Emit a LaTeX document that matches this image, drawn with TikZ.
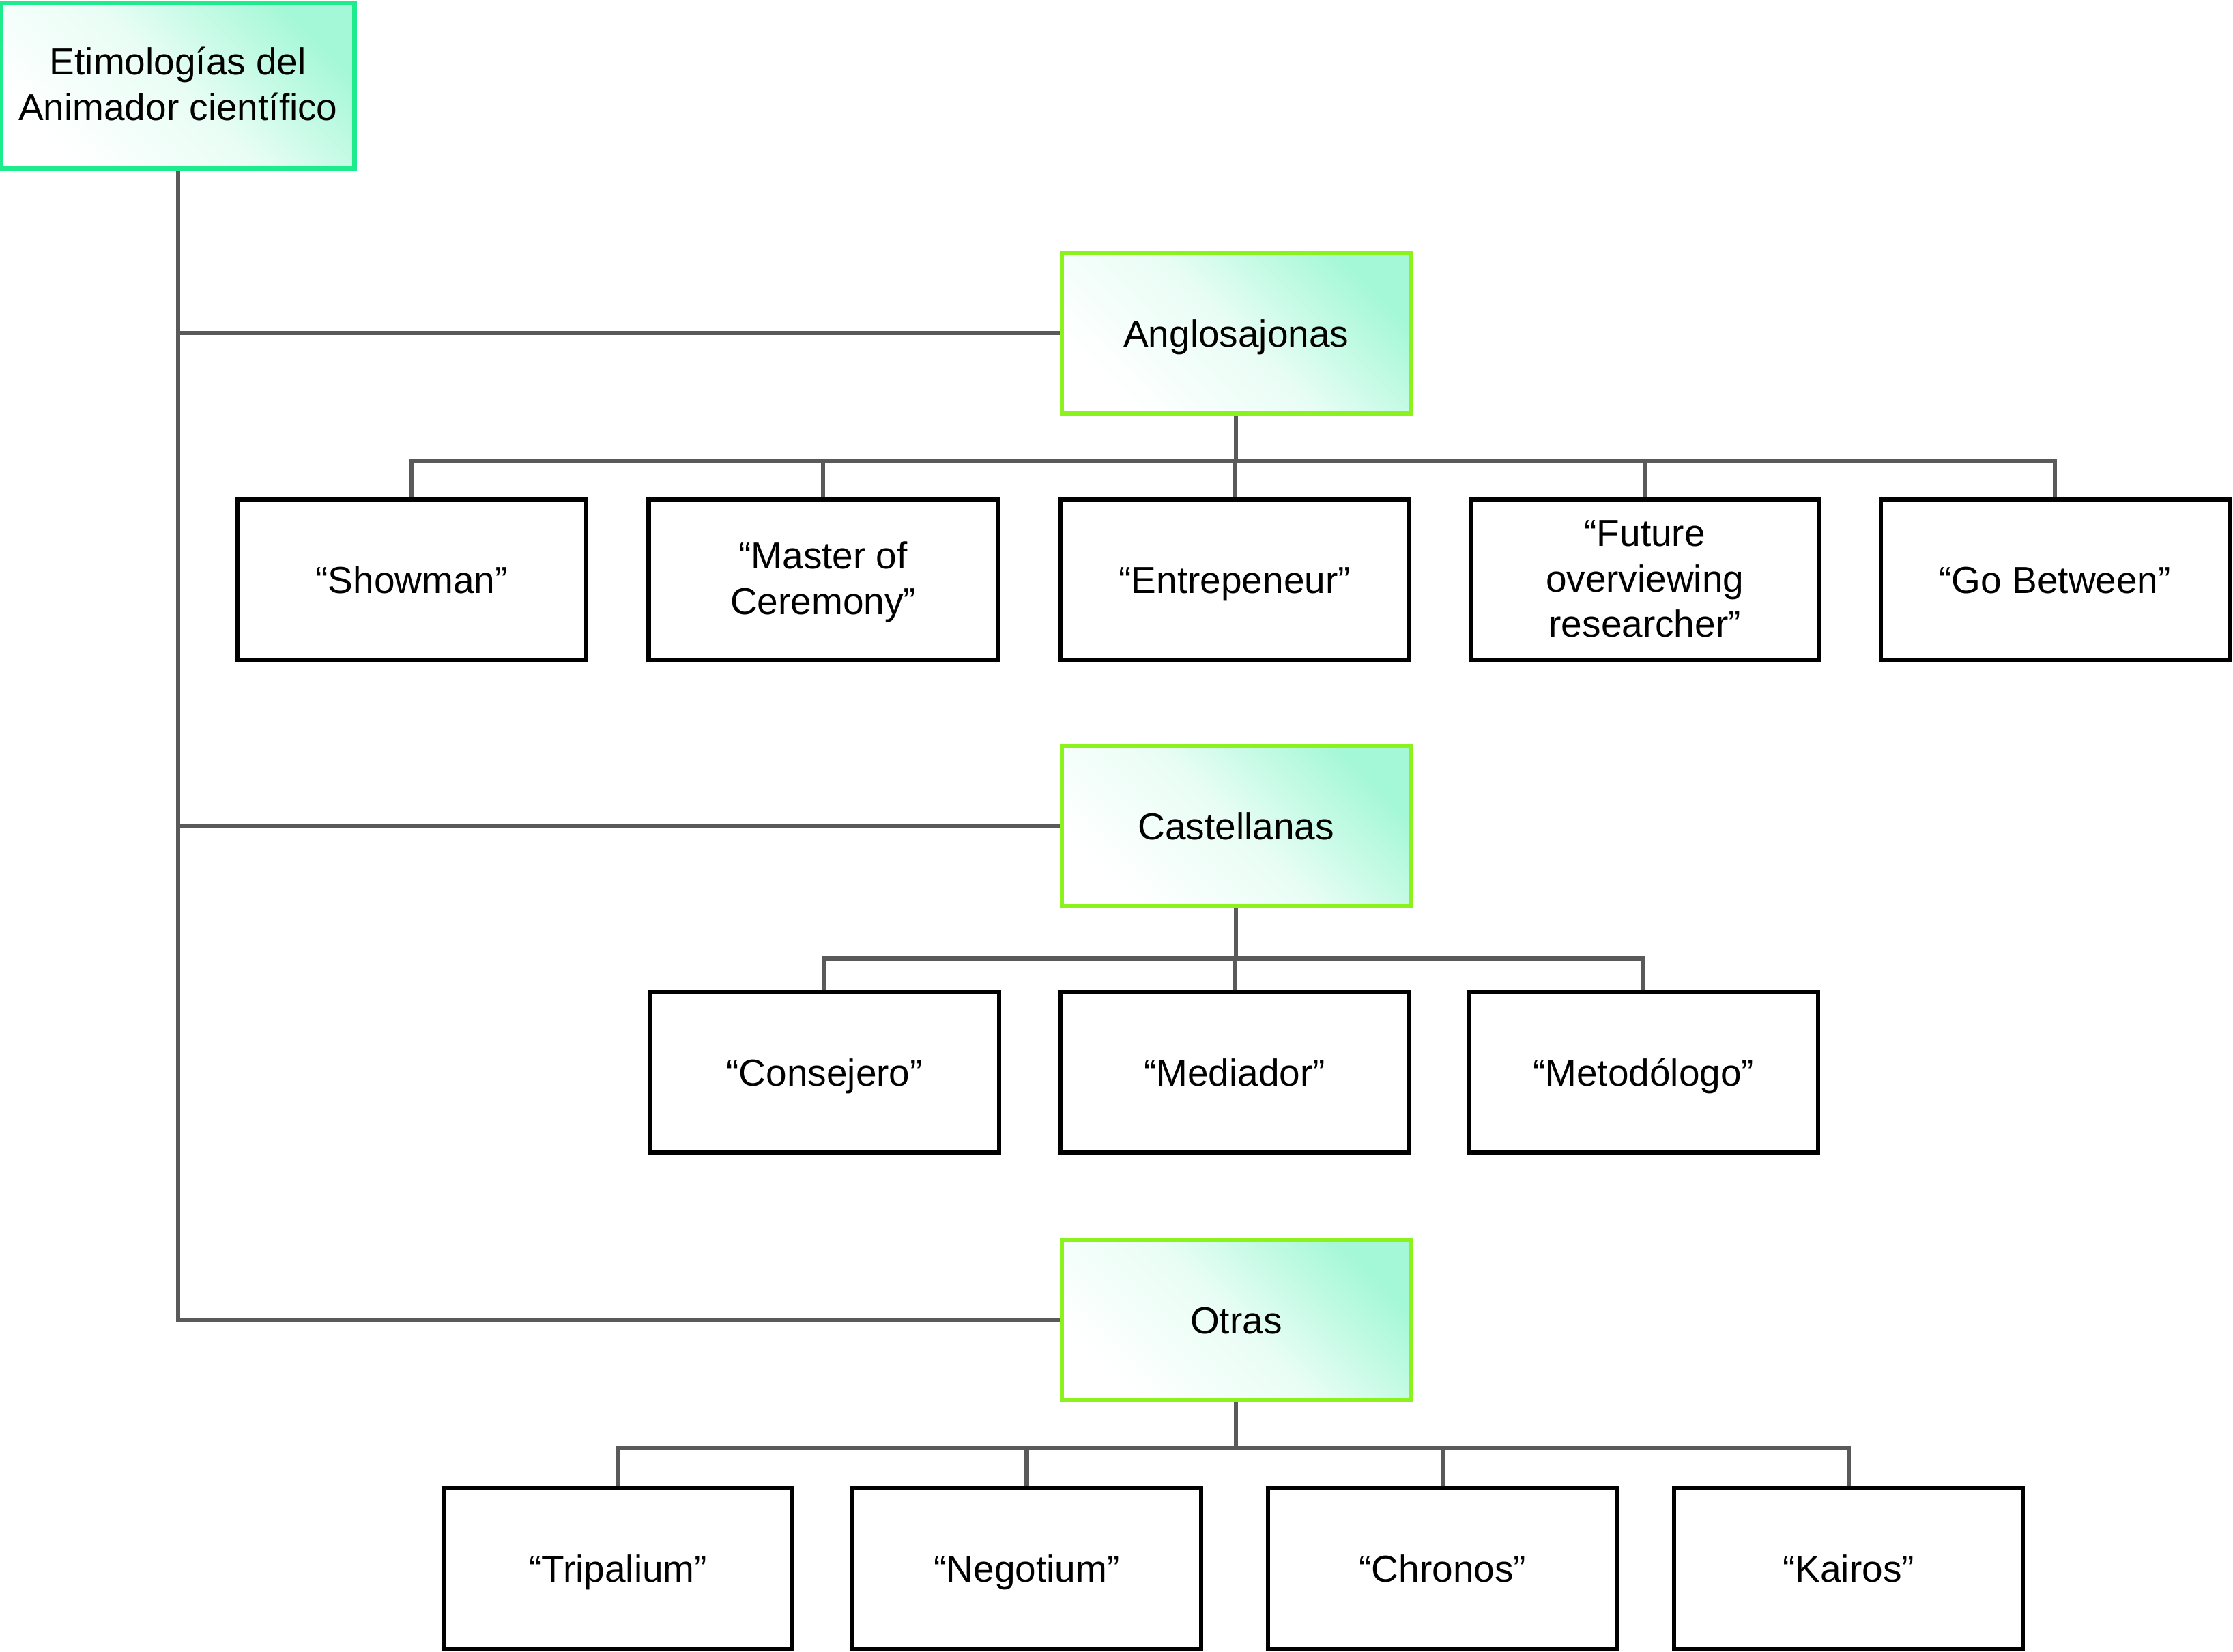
\documentclass[tikz,border=0pt]{standalone}
\usepackage{fontspec}
\setmainfont{Liberation Sans}
\usetikzlibrary{backgrounds}

\definecolor{bordeRaiz}{RGB}{30,235,140}
\definecolor{bordeCat}{RGB}{140,242,30}
\definecolor{menta}{RGB}{165,248,215}
\definecolor{gris}{RGB}{90,90,90}

% altura extra de la primera linea en cajas de varias lineas
\newcommand{\arriba}{\rule{0pt}{15.2pt}}

\tikzset{
	caja/.style={draw, line width=1.7pt, minimum width=4.9cm, minimum height=2.25cm,
		align=center, inner sep=2pt, font=\fontsize{15}{18.2}\selectfont,
		execute at begin node=\rule{0pt}{16.3pt}, execute at end node=\strut},
	hoja/.style={caja, draw=black},
	categoria/.style={caja, draw=bordeCat, top color=menta, bottom color=white,
		middle color=menta!25, shading angle=-45},
	raiz/.style={categoria, draw=bordeRaiz, minimum width=4.96cm, minimum height=2.33cm},
	linea/.style={draw=gris, line width=1.7pt},
}

\begin{document}
\begin{tikzpicture}[x=0.02cm,y=0.02cm]
	%\draw[help lines] (0,0) grid (1568,-1160);
	\useasboundingbox (0,0) rectangle (1568,-1160);

	\path
	coordinate (pRaiz) at (125,-60)
	coordinate (pAng) at (868,-234)
	coordinate (pCas) at (868,-580)
	coordinate (pOtr) at (868,-927)
	coordinate (barA) at (0,-324)
	coordinate (barC) at (0,-673)
	coordinate (barO) at (0,-1017)
	;

	\node[raiz] (raiz) at (pRaiz) {\arriba Etimologías del\\Animador científico};

	\node[categoria] (ang) at (pAng) {Anglosajonas};
	\node[categoria] (cas) at (pCas) {Castellanas};
	\node[categoria] (otr) at (pOtr) {Otras};

	% anglosajonas
	\node[hoja] (show) at (289,-407) {“Showman”};
	\node[hoja] (master) at (578,-407) {\arriba “Master of\\Ceremony”};
	\node[hoja] (entre) at (867,-407) {“Entrepeneur”};
	\node[hoja] (future) at (1155,-407) {\arriba “Future\\overviewing\\researcher”};
	\node[hoja] (gob) at (1443,-407) {“Go Between”};

	% castellanas
	\node[hoja] (cons) at (579,-753) {“Consejero”};
	\node[hoja] (medi) at (867,-753) {“Mediador”};
	\node[hoja] (meto) at (1154,-753) {“Metodólogo”};

	% otras
	\node[hoja] (trip) at (434,-1101.5) {“Tripalium”};
	\node[hoja] (nego) at (721,-1101.5) {“Negotium”};
	\node[hoja] (chro) at (1013,-1101.5) {“Chronos”};
	\node[hoja] (kair) at (1298,-1101.5) {“Kairos”};

	\begin{scope}[on background layer]
		\foreach \c in {ang,cas,otr}
			\draw[linea] (raiz.south) |- (\c.west);
		\foreach \h in {show,master,entre,future,gob}
			\draw[linea] (ang.south) -- (ang.south |- barA) -| (\h.north);
		\foreach \h in {cons,medi,meto}
			\draw[linea] (cas.south) -- (cas.south |- barC) -| (\h.north);
		\foreach \h in {trip,nego,chro,kair}
			\draw[linea] (otr.south) -- (otr.south |- barO) -| (\h.north);
	\end{scope}

\end{tikzpicture}
\end{document}
